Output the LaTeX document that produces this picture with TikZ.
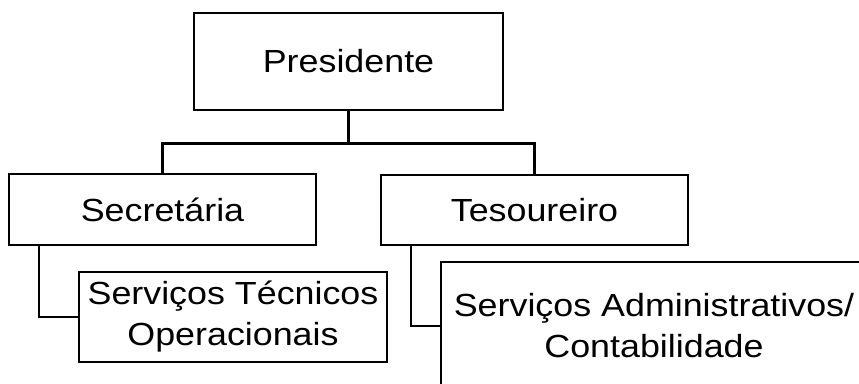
\documentclass[tikz,border=0pt]{standalone}
\usepackage{fontspec}
\setmainfont{Liberation Sans}[FakeStretch=1.12]
\begin{document}
\begin{tikzpicture}[x=1pt,y=1pt,
  orgbox/.style={draw=black, line width=2.4pt, fill=white, inner sep=0pt, align=center,
    font=\fontsize{32}{41}\selectfont},
  link/.style={draw=black, line width=2.4pt}]
\useasboundingbox (0,0) rectangle (859,383);
\clip (0,0) rectangle (859,383);
\node[orgbox, minimum width=309pt, minimum height=97pt] (pres) at (348.5,321.5) {Presidente};
\node[orgbox, minimum width=307pt, minimum height=71pt] (sec) at (162.5,173.5) {Secretária};
\node[orgbox, minimum width=307pt, minimum height=70pt] (tes) at (534.5,173) {Tesoureiro};
\node[orgbox, minimum width=308pt, minimum height=90pt] (tec) at (233,66) {Serviços Técnicos\\Operacionais};
\node[orgbox, minimum width=426pt, minimum height=128pt] (adm) at (654,57) {Serviços Administrativos/\\Contabilidade};
\coordinate (j) at ([yshift=-32.5pt]pres.south);
\draw[link] (pres.south) -- (j);
\draw[link] (sec.north) |- (j) -| (tes.north);
\draw[link] ([xshift=31pt]sec.south west) |- (tec.west);
\draw[link] ([xshift=31pt]tes.south west) |- (adm.west);
\end{tikzpicture}
\end{document}
